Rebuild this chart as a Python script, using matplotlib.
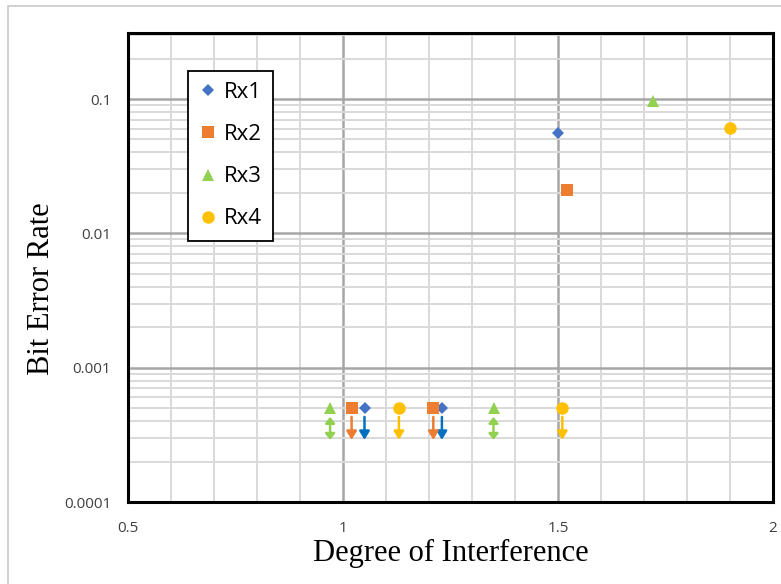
import matplotlib
matplotlib.use("Agg")
import matplotlib.pyplot as plt
from matplotlib.patches import Rectangle
from matplotlib.ticker import FixedLocator, NullFormatter, LogLocator

# ---- data ----
series_names = ["Rx1", "Rx2", "Rx3", "Rx4"]
rx1_x = [1.50, 1.05, 1.23]
rx1_y = [0.056, 0.0005, 0.0005]
rx2_x = [1.52, 1.02, 1.21]
rx2_y = [0.021, 0.0005, 0.0005]
rx3_x = [1.72, 0.97, 1.35]
rx3_y = [0.097, 0.0005, 0.0005]
rx4_x = [1.90, 1.13, 1.51]
rx4_y = [0.061, 0.0005, 0.0005]
upper_bound = [False, True, True]   # points that are upper limits (arrow down)

x_ticks = [0.5, 1, 1.5, 2]
x_tick_labels = ["0.5", "1", "1.5", "2"]
y_ticks = [0.0001, 0.001, 0.01, 0.1]
y_tick_labels = ["0.0001", "0.001", "0.01", "0.1"]

# ---- styles ----
styles = [
    dict(marker="D", color="#4472C4", ms=6.5, arrow="#0070C0", astyle="-|>"),
    dict(marker="s", color="#ED7D31", ms=8.0, arrow="#ED7D31", astyle="-|>"),
    dict(marker="^", color="#92D050", ms=9.0, arrow="#92D050", astyle="<|-|>"),
    dict(marker="o", color="#FFC000", ms=9.0, arrow="#FFC000", astyle="-|>"),
]
xs = [rx1_x, rx2_x, rx3_x, rx4_x]
ys = [rx1_y, rx2_y, rx3_y, rx4_y]

fig = plt.figure(figsize=(7.81, 5.84), dpi=100)
ax = fig.add_axes([128/781, 1-502/584, (773-128)/781, (502-33)/584])

# chart area border
fig.patches.append(Rectangle((8/781, -0.2), 1.2, 1.2 - 6/584, transform=fig.transFigure,
                             fill=False, edgecolor="#C8C8C8", linewidth=1.2))

ax.set_yscale("log")
ax.set_xlim(0.5, 2.0)
ax.set_ylim(1e-4, 0.31)

ax.xaxis.set_major_locator(FixedLocator(x_ticks))
ax.set_xticklabels(x_tick_labels)
ax.xaxis.set_minor_locator(FixedLocator([0.6, 0.7, 0.8, 0.9, 1.1, 1.2, 1.3, 1.4,
                                         1.6, 1.7, 1.8, 1.9]))
ax.yaxis.set_major_locator(FixedLocator(y_ticks))
ax.set_yticklabels(y_tick_labels)
ax.yaxis.set_minor_locator(LogLocator(base=10, subs=range(2, 10), numticks=20))
ax.yaxis.set_minor_formatter(NullFormatter())

ax.grid(which="minor", color="#D9D9D9", linewidth=1.4, zorder=0)
ax.grid(which="major", color="#A6A6A6", linewidth=1.8, zorder=0)
ax.set_axisbelow(True)

ax.tick_params(which="both", length=0)
ax.tick_params(axis="x", pad=14, labelsize=11, labelcolor="#404040")
ax.tick_params(axis="y", pad=12, labelsize=11, labelcolor="#404040")
for lab in ax.get_xticklabels() + ax.get_yticklabels():
    lab.set_fontfamily("Open Sans")

for sp in ax.spines.values():
    sp.set_linewidth(2.2)
    sp.set_color("black")

for name, x, y, st in zip(series_names, xs, ys, styles):
    ax.plot(x, y, linestyle="none", marker=st["marker"], color=st["color"],
            ms=st["ms"], markeredgewidth=0, label=name, zorder=3)
    for xi, yi, ub in zip(x, y, upper_bound):
        if ub:
            if st["astyle"] == "<|-|>":
                hs = ",head_length=0.35,head_width=0.28"
            else:
                hs = ",head_length=0.5,head_width=0.3"
            ax.annotate("", xy=(xi, yi * 0.58), xytext=(xi, yi * 0.86),
                        arrowprops=dict(arrowstyle=st["astyle"] + hs,
                                        color=st["arrow"], lw=1.8, shrinkA=0, shrinkB=0),
                        zorder=3)

ax.set_xlabel("Degree of Interference", fontfamily="Liberation Serif", fontsize=22,
              labelpad=2)
ax.set_ylabel("Bit Error Rate", fontfamily="Liberation Serif", fontsize=22)
ax.yaxis.set_label_coords((56-128)/645, (502-289)/469)

leg = ax.legend(loc="upper left", bbox_to_anchor=((188-128)/645, (502-71)/469),
                frameon=True, fancybox=False, edgecolor="black", framealpha=1,
                prop={"family": "Open Sans", "size": 16}, labelspacing=0.95,
                handletextpad=0.3, handlelength=0.8, borderpad=0.5, borderaxespad=0)
leg.get_frame().set_linewidth(1.3)

fig.savefig("out.png", dpi=100)
